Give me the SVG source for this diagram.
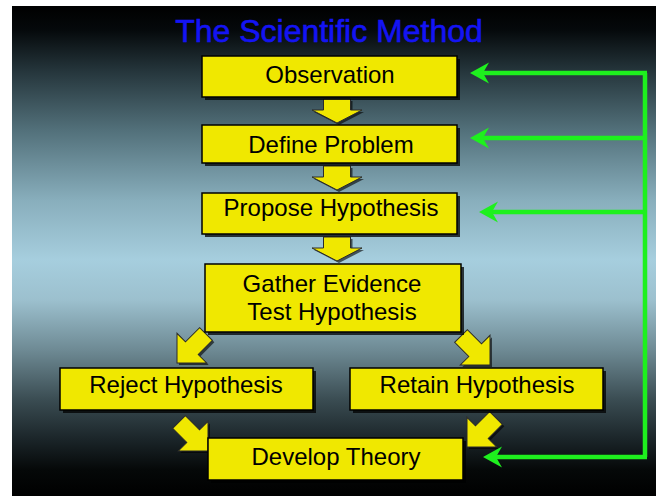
<svg xmlns="http://www.w3.org/2000/svg" width="656" height="496" viewBox="0 0 656 496">
<defs>
<linearGradient id="bg" x1="0" y1="6" x2="0" y2="496" gradientUnits="userSpaceOnUse">
<stop offset="0" stop-color="#000000"/>
<stop offset="0.049" stop-color="#05090b"/>
<stop offset="0.13" stop-color="#24343a"/>
<stop offset="0.253" stop-color="#52707a"/>
<stop offset="0.396" stop-color="#88aebc"/>
<stop offset="0.518" stop-color="#a6cede"/>
<stop offset="0.6" stop-color="#9cc0ce"/>
<stop offset="0.702" stop-color="#6e8a94"/>
<stop offset="0.804" stop-color="#3a4c52"/>
<stop offset="0.886" stop-color="#1a2428"/>
<stop offset="0.947" stop-color="#050808"/>
<stop offset="1" stop-color="#000000"/>
</linearGradient>
<marker id="gh" markerUnits="userSpaceOnUse" viewBox="-22 -12 24 24" refX="-12" refY="0" markerWidth="24" markerHeight="24" orient="auto">
<path d="M0,0 L-19,-10.5 L-13,0 L-19,10.5 Z" fill="#1ef01e"/>
</marker>
<path id="down" d="M-13.5,-24 H13.5 V-13 H25 L0,0 L-25,-13 H-13.5 Z"/>
<path id="diag" d="M0,0 L-21,-21 L-9,-21 L-9,-41 L9,-41 L9,-21 L21,-21 Z"/>
</defs>
<style>
.box{fill:#f0e800;stroke:#000;stroke-width:1.5}
.sh{fill:#000;opacity:0.75}
.lbl{font-family:"Liberation Sans",Arial,sans-serif;font-size:24px;fill:#000;text-anchor:middle}
.arr{fill:#f0e800;stroke:#2a2a2a;stroke-width:1}
.ash{fill:#000;opacity:0.6}
.gl{fill:none;stroke:#1ef01e;stroke-width:4.5}
</style>
<rect x="12" y="6" width="644" height="490" fill="url(#bg)"/>
<text x="329" y="42" font-family="Liberation Sans,Arial,sans-serif" font-size="32" fill="#1414f4" stroke="#1414f4" stroke-width="0.6" text-anchor="middle">The Scientific Method</text>

<g id="block-arrows">
<use href="#down" class="ash" transform="translate(339,125)"/>
<use href="#down" class="arr" transform="translate(337,123)"/>
<use href="#down" class="ash" transform="translate(339,192)"/>
<use href="#down" class="arr" transform="translate(337,190)"/>
<use href="#down" class="ash" transform="translate(339,263)"/>
<use href="#down" class="arr" transform="translate(337,261)"/>
<use href="#diag" class="ash" transform="translate(179,365) rotate(45)"/>
<use href="#diag" class="arr" transform="translate(177,363) rotate(45)"/>
<use href="#diag" class="ash" transform="translate(492,367) rotate(-45)"/>
<use href="#diag" class="arr" transform="translate(490,365) rotate(-45)"/>
<use href="#diag" class="ash" transform="translate(210,453) rotate(-45)"/>
<use href="#diag" class="arr" transform="translate(208,451) rotate(-45)"/>
<use href="#diag" class="ash" transform="translate(469,449) rotate(45)"/>
<use href="#diag" class="arr" transform="translate(467,447) rotate(45)"/>
</g>

<g id="connectors">
<path class="gl" d="M645,73 V457"/>
<path class="gl" d="M647,73 H482" marker-end="url(#gh)"/>
<path class="gl" d="M645,138 H482" marker-end="url(#gh)"/>
<path class="gl" d="M645,212 H491" marker-end="url(#gh)"/>
<path class="gl" d="M647,457 H495" marker-end="url(#gh)"/>
</g>

<g id="observation">
<rect class="sh" x="205" y="59" width="255" height="41"/>
<rect class="box" x="202" y="56" width="255" height="41"/>
<text class="lbl" x="330" y="83">Observation</text>
</g>
<g id="define-problem">
<rect class="sh" x="205" y="128" width="255" height="38"/>
<rect class="box" x="202" y="125" width="255" height="38"/>
<text class="lbl" x="331" y="153">Define Problem</text>
</g>
<g id="propose-hypothesis">
<rect class="sh" x="205" y="196" width="255" height="41"/>
<rect class="box" x="202" y="193" width="255" height="41"/>
<text class="lbl" x="331" y="216">Propose Hypothesis</text>
</g>
<g id="gather-evidence">
<rect class="sh" x="208" y="267" width="256" height="68"/>
<rect class="box" x="205" y="264" width="256" height="68"/>
<text class="lbl" x="332" y="292">Gather Evidence</text>
<text class="lbl" x="332" y="320">Test Hypothesis</text>
</g>
<g id="reject-hypothesis">
<rect class="sh" x="63" y="371" width="253" height="42"/>
<rect class="box" x="60" y="368" width="253" height="42"/>
<text class="lbl" x="186" y="393">Reject Hypothesis</text>
</g>
<g id="retain-hypothesis">
<rect class="sh" x="353" y="371" width="253" height="42"/>
<rect class="box" x="350" y="368" width="253" height="42"/>
<text class="lbl" x="477" y="393">Retain Hypothesis</text>
</g>
<g id="develop-theory">
<rect class="sh" x="211" y="441" width="255" height="42"/>
<rect class="box" x="208" y="438" width="255" height="42"/>
<text class="lbl" x="336" y="465">Develop Theory</text>
</g>
</svg>
